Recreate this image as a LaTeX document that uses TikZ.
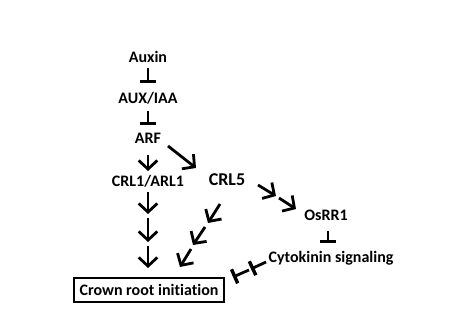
\documentclass[tikz,border=0pt]{standalone}
\usepackage{fontspec}
\setmainfont[Ligatures=NoCommon]{Carlito}
\usetikzlibrary{arrows.meta}

\begin{document}
\begin{tikzpicture}[x=0.75pt,y=-0.75pt,
    lbl/.style={font=\bfseries\fontsize{12}{14}\selectfont, inner sep=0pt},
    act/.style={line width=2.1pt, -{Straight Barb[length=6.5pt,width=14pt]}},
    inh/.style={line width=2.1pt, -{Bar[width=11.5pt,line width=2.6pt]}}]
    \useasboundingbox (0,0) rectangle (472,320);

    % Labels
    \node[lbl] (auxin) at (148,57) {Auxin};
    \node[lbl] (auxiaa) at (148,98) {AUX/IAA};
    \node[lbl] (arf) at (148,138) {ARF};
    \node[lbl] (crl1) at (148,181) {CRL1/ARL1};
    \node[lbl, font=\bfseries\fontsize{13.5}{16}\selectfont] (crl5) at (227,180) {CRL5};
    \node[lbl] (osrr1) at (326,215) {OsRR1};
    \node[lbl] (cyto) at (331,258) {Cytokinin signaling};
    \node[lbl, draw, line width=1.2pt, inner xsep=4pt, minimum height=18pt] (crown) at (149,290) {Crown root initiation};

    % Auxin -> ARF
    \draw[inh] (auxin) ++(0,11) coordinate (i1) -- ++(0,15) coordinate (i2);
    \draw[inh] (auxiaa) ++(0,13) coordinate (i3) -- ++(0,14) coordinate (i4);

    % ARF branches
    \coordinate (a1) at (148,155);
    \coordinate (a2) at (148,171);
    \draw[act] (a1) -- (a2);
    \coordinate (b1) at (168,146);
    \coordinate (b2) at (196,168);
    \draw[act] (b1) -- (b2);

    % CRL1/ARL1 -> Crown root initiation
    \coordinate (c1) at (148,192);
    \coordinate (c2) at (148,214);
    \coordinate (c3) at (148,218);
    \coordinate (c4) at (148,242);
    \coordinate (c5) at (148,246);
    \coordinate (c6) at (148,268);
    \draw[act] (c1) -- (c2);
    \draw[act] (c3) -- (c4);
    \draw[act] (c5) -- (c6);

    % CRL5 -> Crown root initiation
    \coordinate (d1) at (220,204);
    \coordinate (d2) at (208,223);
    \coordinate (d3) at (205,227);
    \coordinate (d4) at (193,245);
    \coordinate (d5) at (191,249);
    \coordinate (d6) at (180,267);
    \draw[act] (d1) -- (d2);
    \draw[act] (d3) -- (d4);
    \draw[act] (d5) -- (d6);

    % CRL5 -> OsRR1
    \coordinate (e1) at (258,185);
    \coordinate (e2) at (276,196);
    \coordinate (e3) at (279,198);
    \coordinate (e4) at (296,209);
    \draw[act] (e1) -- (e2);
    \draw[act] (e3) -- (e4);

    % OsRR1 -| Cytokinin signaling
    \coordinate (f1) at (328,231);
    \coordinate (f2) at (328,243);
    \draw[inh] (f1) -- (f2);

    % Cytokinin signaling -| Crown root initiation
    \coordinate (g1) at (266,262);
    \coordinate (g2) at (251,269);
    \coordinate (g3) at (249,270);
    \coordinate (g4) at (233,277);
    \draw[inh] (g1) -- (g2);
    \draw[inh] (g3) -- (g4);

\end{tikzpicture}
\end{document}
